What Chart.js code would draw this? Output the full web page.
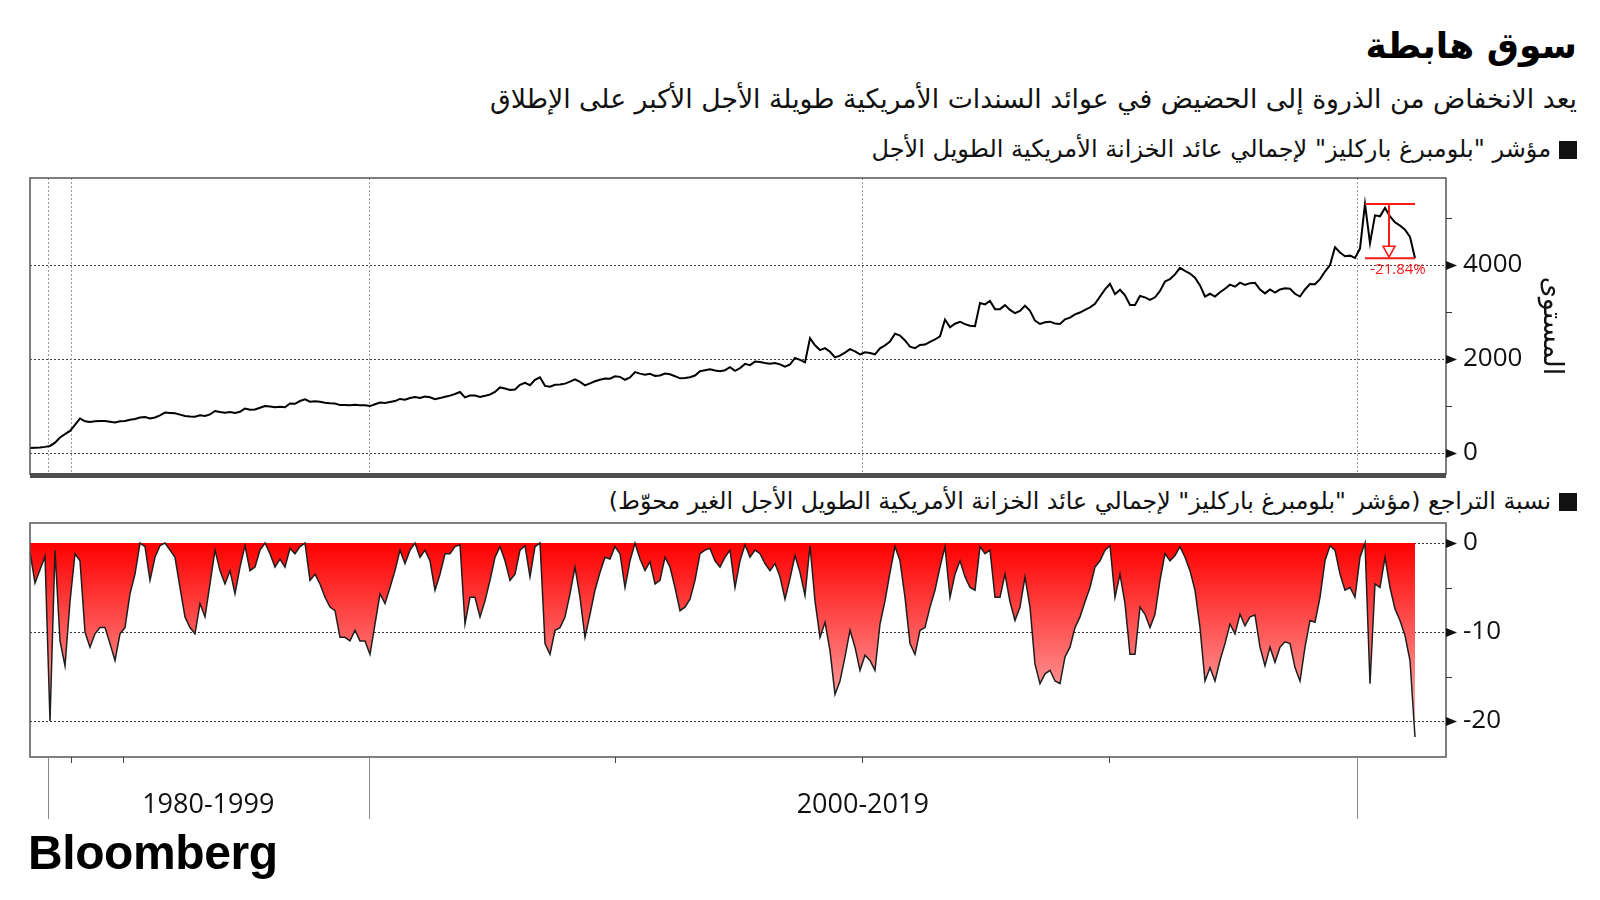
<!DOCTYPE html>
<html><head><meta charset="utf-8">
<script src="https://cdn.jsdelivr.net/npm/chart.js@4.4.1/dist/chart.umd.min.js"></script>
<style>
body{margin:0;width:1600px;height:900px;background:#fff;position:relative;overflow:hidden;font-family:"DejaVu Sans",sans-serif;color:#111;}
.t{position:absolute;right:23px;direction:rtl;white-space:nowrap;}
#title{top:26px;line-height:40px;font-size:36px;font-weight:bold;color:#000;}
#sub{top:81px;line-height:36px;font-size:26.7px;}
.leg{line-height:36px;font-size:24px;}
#leg1{top:131px;}
#leg2{top:483px;font-size:23.7px;}
.sq{display:inline-block;width:18px;height:18px;background:#111;margin-left:8px;vertical-align:-2px;}
canvas{position:absolute;left:0;}
#c1{top:170px;}
#c2{top:510px;}
#logo{position:absolute;left:28px;top:829px;line-height:48px;font-family:"Liberation Sans",Arial,sans-serif;font-weight:bold;font-size:48px;letter-spacing:-0.4px;color:#000;}
</style></head>
<body>
<div id="title" class="t">سوق هابطة</div>
<div id="sub" class="t">يعد الانخفاض من الذروة إلى الحضيض في عوائد السندات الأمريكية طويلة الأجل الأكبر على الإطلاق</div>
<div id="leg1" class="t leg"><span class="sq"></span>مؤشر "بلومبرغ باركليز" لإجمالي عائد الخزانة الأمريكية الطويل الأجل</div>
<div id="leg2" class="t leg"><span class="sq"></span>نسبة التراجع (مؤشر "بلومبرغ باركليز" لإجمالي عائد الخزانة الأمريكية الطويل الأجل الغير محوّط)</div>
<canvas id="c1" width="1600" height="310"></canvas>
<canvas id="c2" width="1600" height="340"></canvas>
<div id="logo">Bloomberg</div>
<script>
// ---------- DATA (observation index -> value) ----------
const levelValues = [
106,110,115,130,150,219,330,400,470,596,
735,675,662,673,679,679,665,651,673,679,
707,724,755,765,736,756,800,860,853,846,
817,789,778,772,801,789,820,893,872,859,
872,849,876,947,921,924,962,1000,988,973,
982,973,1054,1047,1106,1140,1092,1100,1088,1070,
1058,1053,1019,1019,1015,1028,1015,1015,998,1036,
1075,1062,1083,1105,1150,1133,1170,1190,1171,1200,
1186,1146,1168,1195,1220,1255,1297,1182,1221,1221,
1192,1216,1245,1300,1395,1372,1341,1351,1450,1495,
1443,1555,1610,1428,1409,1452,1457,1476,1518,1567,
1512,1439,1481,1525,1557,1584,1581,1633,1620,1558,
1607,1720,1689,1667,1684,1641,1648,1692,1674,1634,
1589,1596,1612,1648,1739,1761,1779,1754,1742,1761,
1825,1748,1803,1896,1870,1944,1936,1915,1899,1915,
1886,1837,1882,2021,1982,1929,2443,2291,2190,2232,
2154,2033,2070,2136,2210,2163,2099,2141,2127,2099,
2227,2291,2369,2540,2499,2394,2262,2231,2300,2308,
2366,2415,2481,2840,2676,2750,2793,2742,2708,2700,
3190,3162,3235,3061,3061,3146,3045,2976,3025,3136,
3025,2817,2745,2781,2794,2755,2745,2843,2879,2950,
2989,3045,3097,3172,3330,3480,3600,3380,3474,3355,
3150,3150,3341,3312,3258,3312,3449,3650,3700,3800,
3940,3877,3818,3731,3566,3329,3388,3329,3420,3495,
3581,3538,3625,3574,3613,3621,3479,3396,3479,3412,
3479,3503,3495,3388,3329,3479,3597,3589,3700,3861,
4000,4380,4265,4186,4199,4150,4349,5300,4463,5056,
5035,5215,5035,4908,4839,4749,4600,4145
];
const drawdownValues = [
-1.0,-4.5,-3.0,-1.5,-20.0,-0.8,-11.0,-13.8,-6.6,-1.2,
-2.0,-10.0,-11.7,-10.2,-9.5,-9.5,-11.3,-13.2,-10.2,-9.5,
-5.7,-3.5,0,-0.4,-4.2,-1.6,-0.3,0,-0.8,-1.6,
-5.0,-8.3,-9.5,-10.2,-6.8,-8.3,-4.6,-0.8,-3.1,-4.6,
-3.1,-5.7,-2.7,-0.3,-3.1,-2.7,-0.8,0,-1.2,-2.7,
-1.8,-2.7,-0.6,-1.2,-0.4,0,-4.2,-3.5,-4.6,-6.1,
-7.2,-7.6,-10.6,-10.6,-11.0,-9.8,-11.0,-11.0,-12.5,-9.1,
-5.7,-6.8,-5.0,-3.1,-0.8,-2.3,-0.8,0,-1.6,-0.8,
-2.0,-5.3,-3.5,-1.2,-1.2,-0.4,-0.2,-9.1,-6.1,-6.1,
-8.3,-6.5,-4.2,-1.6,-0.4,-2.0,-4.2,-3.5,-0.8,-0.3,
-3.8,-0.4,0,-11.3,-12.5,-9.8,-9.5,-8.3,-5.7,-2.7,
-6.1,-10.6,-8.0,-5.3,-3.3,-1.6,-1.8,-0.4,-1.2,-5.0,
-2.0,0,-1.8,-3.1,-2.1,-4.6,-4.2,-1.6,-2.7,-5.0,
-7.6,-7.2,-6.3,-4.2,-1.2,-0.8,-0.6,-2.0,-2.7,-1.6,
-0.8,-5.0,-2.0,-0.2,-1.6,-0.8,-1.2,-2.3,-3.1,-2.3,
-3.8,-6.3,-4.0,-1.4,-3.3,-5.9,-0.3,-6.5,-10.6,-8.9,
-12.1,-17.0,-15.5,-12.8,-9.8,-11.7,-14.3,-12.6,-13.2,-14.3,
-9.1,-6.5,-3.3,-0.4,-2.0,-6.1,-11.3,-12.5,-9.8,-9.5,
-7.2,-5.3,-2.7,-0.4,-6.1,-3.5,-2.0,-3.8,-5.0,-5.3,
-0.4,-1.2,-0.8,-6.1,-6.1,-3.5,-6.6,-8.7,-7.2,-3.8,
-7.2,-13.6,-15.8,-14.7,-14.3,-15.5,-15.8,-12.8,-11.7,-9.5,
-8.3,-6.6,-5.0,-2.7,-2.0,-0.8,-0.3,-6.1,-3.5,-6.8,
-12.5,-12.5,-7.2,-8.0,-9.5,-8.0,-4.2,-1.2,-2.0,-1.4,
-0.4,-1.6,-3.1,-5.3,-9.5,-15.5,-14.0,-15.5,-13.2,-11.3,
-9.1,-10.2,-8.0,-9.3,-8.3,-8.1,-11.7,-13.8,-11.7,-13.4,
-11.7,-11.1,-11.3,-14.0,-15.5,-11.7,-8.7,-8.9,-6.1,-2.0,
-0.3,-0.8,-3.5,-5.3,-5.0,-6.1,-1.6,0,-15.8,-4.6,
-5.0,-1.6,-5.0,-7.4,-8.7,-10.4,-13.2,-21.8
];
// observation index at which each year starts (axis is per-observation, not per-day)
const yearTickYears = [1980, 1990, 1995, 2000, 2005, 2010, 2015, 2020];
const yearTickIdx   = [3.6, 8.1, 18.5, 67.7, 117, 166.4, 215.8, 265.4];
const longTickYears = [1980, 2000, 2020];
const periodLabels  = ['1980-1999', '2000-2019'];
const periodBounds  = [[1980, 2000], [2000, 2020]];
const levelTicks      = [0, 1000, 2000, 3000, 4000, 5000];
const levelLabelTicks = [0, 2000, 4000];
const ddTicks         = [-20, -15, -10, -5, 0];
const ddLabelTicks    = [-20, -10, 0];
const drawdownLabel   = '-21.84%';
const levelAxisTitle  = 'المستوى';

// ---------- helpers ----------
function seg(ctx, x1, y1, x2, y2, color, width, dash) {
  ctx.save(); ctx.strokeStyle = color; ctx.lineWidth = width; ctx.setLineDash(dash || []);
  ctx.beginPath(); ctx.moveTo(x1, y1); ctx.lineTo(x2, y2); ctx.stroke(); ctx.restore();
}
function idxOfYear(yr) { return yearTickIdx[yearTickYears.indexOf(yr)]; }
function rightAxisMarks(ctx, a, y, all, labeled) {
  all.forEach(v => {
    const py = Math.round(y.getPixelForValue(v)) + 0.5;
    if (labeled.includes(v)) {
      ctx.save(); ctx.fillStyle = '#111'; ctx.beginPath();
      ctx.moveTo(a.right, py - 4.5); ctx.lineTo(a.right + 11, py); ctx.lineTo(a.right, py + 4.5);
      ctx.closePath(); ctx.fill(); ctx.restore();
    } else {
      seg(ctx, a.right, py, a.right + 6, py, '#333', 1);
    }
  });
}
function fixAxis(s) { s.width = 154; s.paddingTop = 0; s.paddingBottom = 0; }
const X_MAX = 283.2;
const tickFont = {family: "'Open Sans', sans-serif", size: 26};

// ---------- TOP CHART ----------
const topDecor = {
  id: 'topDecor',
  beforeDatasetsDraw(chart) {
    const {ctx, chartArea: a, scales: {x, y}} = chart;
    levelLabelTicks.forEach(v => {
      const py = Math.round(y.getPixelForValue(v)) + 0.5;
      seg(ctx, a.left, py, a.right, py, '#444', 1, [2, 2]);
    });
    yearTickYears.forEach((yr, k) => {
      if (yr % 10) return;
      const px = Math.round(x.getPixelForValue(yearTickIdx[k])) + 0.5;
      seg(ctx, px, a.top, px, a.bottom, '#9a9a9a', 1, [2, 2]);
    });
  },
  afterDatasetsDraw(chart) {
    const {ctx, scales: {x, y}} = chart;
    const peak = Math.max(...levelValues);
    const pi = levelValues.indexOf(peak);
    const ei = levelValues.length - 1;
    const xs = x.getPixelForValue(pi), xe = x.getPixelForValue(ei);
    const yp = y.getPixelForValue(peak), yt = y.getPixelForValue(levelValues[ei]);
    const xm = (xs + xe) / 2 - 1;
    const red = '#ff1a1a';
    seg(ctx, xs, yp, xe, yp, red, 2);
    seg(ctx, xs, yt, xe, yt, red, 2);
    seg(ctx, xm, yp, xm, yt - 12, red, 2);
    ctx.save(); ctx.strokeStyle = red; ctx.fillStyle = '#fff'; ctx.lineWidth = 1.6;
    ctx.beginPath(); ctx.moveTo(xm - 6, yt - 12); ctx.lineTo(xm + 6, yt - 12); ctx.lineTo(xm, yt - 1);
    ctx.closePath(); ctx.fill(); ctx.stroke();
    ctx.fillStyle = red; ctx.font = "15px 'Open Sans', sans-serif"; ctx.textAlign = 'center'; ctx.textBaseline = 'middle';
    ctx.fillText(drawdownLabel, xm + 9, yt + 12);
    ctx.restore();
  },
  afterDraw(chart) {
    const {ctx, chartArea: a, scales: {y}} = chart;
    ctx.save(); ctx.strokeStyle = '#555'; ctx.lineWidth = 1.5;
    ctx.strokeRect(a.left, a.top, a.right - a.left, a.bottom - a.top); ctx.restore();
    ctx.save(); ctx.fillStyle = '#4d4d4d'; ctx.fillRect(a.left, a.bottom - 1, a.right - a.left, 5); ctx.restore();
    rightAxisMarks(ctx, a, y, levelTicks, levelLabelTicks);
  }
};

new Chart(document.getElementById('c1'), {
  type: 'line',
  data: {datasets: [{
    data: levelValues.map((v, i) => ({x: i, y: v})),
    borderColor: '#000', borderWidth: 2, pointRadius: 0, fill: false, tension: 0
  }]},
  options: {
    responsive: false, animation: false, events: [],
    layout: {padding: {left: 30, top: 8, right: 0, bottom: 6}},
    plugins: {legend: {display: false}, tooltip: {enabled: false}},
    scales: {
      x: {type: 'linear', min: 0, max: X_MAX, display: false},
      y: {
        position: 'right', min: -447, max: 5851,
        afterBuildTicks: s => { s.ticks = levelTicks.map(v => ({value: v})); },
        afterFit: fixAxis,
        grid: {display: false}, border: {display: false},
        ticks: {padding: 9, font: tickFont, color: '#111',
          callback: v => levelLabelTicks.includes(v) ? String(v) : ''},
        title: {display: true, text: levelAxisTitle, color: '#111',
          font: {family: "'DejaVu Sans', sans-serif", size: 27}, padding: {top: 33, bottom: 0}}
      }
    }
  },
  plugins: [topDecor]
});

// ---------- BOTTOM CHART ----------
const botDecor = {
  id: 'botDecor',
  beforeDatasetsDraw(chart) {
    const {ctx, chartArea: a, scales: {y}} = chart;
    ddLabelTicks.forEach(v => {
      const py = Math.round(y.getPixelForValue(v)) + 0.5;
      seg(ctx, a.left, py, a.right, py, '#333', 1, [2, 2]);
    });
  },
  afterDraw(chart) {
    const {ctx, chartArea: a, scales: {x, y}} = chart;
    ctx.save(); ctx.strokeStyle = '#555'; ctx.lineWidth = 1.5;
    ctx.strokeRect(a.left, a.top, a.right - a.left, a.bottom - a.top); ctx.restore();
    rightAxisMarks(ctx, a, y, ddTicks, ddLabelTicks);
    yearTickYears.forEach((yr, k) => {
      const px = Math.round(x.getPixelForValue(yearTickIdx[k])) + 0.5;
      if (longTickYears.includes(yr)) seg(ctx, px, a.bottom, px, a.bottom + 62, '#8a8a8a', 1);
      else seg(ctx, px, a.bottom, px, a.bottom + 6, '#444', 1);
    });
    ctx.save(); ctx.fillStyle = '#111'; ctx.font = "27px 'Open Sans', sans-serif";
    ctx.textAlign = 'center'; ctx.textBaseline = 'middle';
    periodLabels.forEach((lab, k) => {
      const cx = x.getPixelForValue((idxOfYear(periodBounds[k][0]) + idxOfYear(periodBounds[k][1])) / 2);
      ctx.fillText(lab, cx, a.bottom + 48);
    });
    ctx.restore();
  }
};

new Chart(document.getElementById('c2'), {
  type: 'line',
  data: {datasets: [{
    data: drawdownValues.map((v, i) => ({x: i, y: v})),
    borderColor: '#1e1e1e', borderWidth: 1.5, pointRadius: 0, tension: 0,
    fill: 'origin',
    backgroundColor: c => {
      const ch = c.chart; if (!ch.chartArea) return '#ff4040';
      const y = ch.scales.y;
      const g = ch.ctx.createLinearGradient(0, y.getPixelForValue(0), 0, y.getPixelForValue(-22));
      g.addColorStop(0, '#ff0000'); g.addColorStop(1, '#ffc4c4');
      return g;
    }
  }]},
  options: {
    responsive: false, animation: false, events: [],
    layout: {padding: {left: 30, top: 13, right: 0, bottom: 93}},
    plugins: {legend: {display: false}, tooltip: {enabled: false}},
    scales: {
      x: {type: 'linear', min: 0, max: X_MAX, display: false},
      y: {
        position: 'right', min: -24.04, max: 2.25,
        afterBuildTicks: s => { s.ticks = ddTicks.map(v => ({value: v})); },
        afterFit: fixAxis,
        grid: {display: false}, border: {display: false},
        ticks: {padding: 9, font: tickFont, color: '#111',
          callback: v => ddLabelTicks.includes(v) ? String(v) : ''}
      }
    }
  },
  plugins: [botDecor]
});
</script>
</body></html>
